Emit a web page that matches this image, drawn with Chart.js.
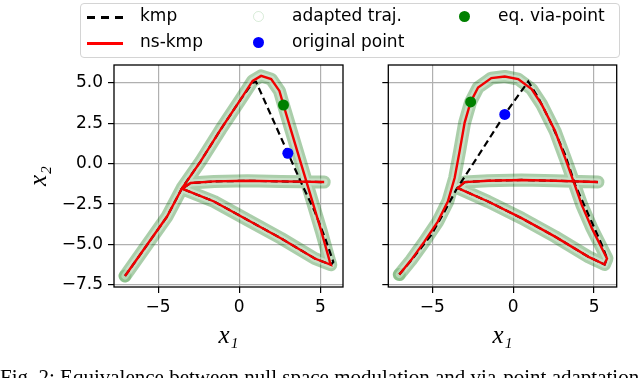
<!DOCTYPE html>
<html>
<head>
<meta charset="utf-8">
<script src="https://cdn.jsdelivr.net/npm/chart.js@4/dist/chart.umd.min.js"></script>
<style>
  body { margin: 0; background: #fff; width: 640px; height: 378px; overflow: hidden; position: relative; font-family: "DejaVu Sans", sans-serif; }
  canvas { position: absolute; top: 0; }
  #left { left: 0; }
  #right { left: 350px; }
  .legend { position: absolute; left: 80px; top: 3px; width: 538px; height: 53px; border: 1px solid #d4d4d4; border-radius: 4px; background: rgba(255,255,255,0.8); z-index: 2; }
  .lbl { position: absolute; font-size: 17px; line-height: 17px; color: #000; white-space: nowrap; z-index: 3; }
  .hline { position: absolute; height: 2.5px; width: 36px; z-index: 3; }
  .dot { position: absolute; width: 11px; height: 11px; border-radius: 50%; z-index: 3; box-sizing: border-box; }
  .caption { position: absolute; left: 0; top: 365px; font-family: "Liberation Serif", serif; font-size: 21px; white-space: nowrap; color: #000; }
</style>
</head>
<body>
<canvas id="left" width="350" height="378"></canvas>
<canvas id="right" width="290" height="378"></canvas>

<div class="legend"></div>
<div class="hline" style="left:87px;top:16px;background:repeating-linear-gradient(90deg,#000 0 8.5px,transparent 8.5px 14px);"></div>
<div class="lbl" style="left:140px;top:7px;">kmp</div>
<div class="hline" style="left:87px;top:42px;background:#ff0000;"></div>
<div class="lbl" style="left:140px;top:33px;">ns-kmp</div>
<div class="dot" style="left:253px;top:11px;border:1px solid rgba(0,128,0,0.15);"></div>
<div class="lbl" style="left:292px;top:7px;">adapted traj.</div>
<div class="dot" style="left:253px;top:37px;background:#0000ff;"></div>
<div class="lbl" style="left:292px;top:33px;">original point</div>
<div class="dot" style="left:459px;top:11px;background:#008000;"></div>
<div class="lbl" style="left:498px;top:7px;">eq. via-point</div>

<div class="caption">Fig. 2: Equivalence between null space modulation and via-point adaptation</div>

<script>
// axis ticks
const xTicks = [-5, 0, 5];
const yTicks = [-7.5, -5, -2.5, 0, 2.5, 5];

// left panel: kmp through the original point, ns-kmp through the equivalent via-point
const leftKmpX = [-7.04, -5.69, -4.45, -3.52, -2.38, -1.14, 0.10, 0.83, 1.04, 2.0, 3.0, 3.9, 4.66, 5.3, 5.8, 5.65, 4.66, 2.59, 0.52, -1.55, -3.52, -3.0, -1.55, 0.52, 2.59, 5.24];
const leftKmpY = [-6.94, -5.03, -3.27, -1.51, 0.14, 2.11, 3.98, 5.0, 5.05, 2.9, 0.66, -1.35, -2.96, -4.6, -6.07, -6.25, -5.86, -4.62, -3.48, -2.34, -1.55, -1.2, -1.1, -1.06, -1.1, -1.14];
const leftNsX = [-7.04, -5.69, -4.45, -3.52, -2.38, -1.14, 0.10, 0.83, 1.35, 1.97, 2.48, 2.73, 3.21, 3.83, 4.45, 5.07, 5.59, 5.65, 4.66, 2.59, 0.52, -1.55, -3.52, -3.0, -1.55, 0.52, 2.59, 5.24];
const leftNsY = [-6.94, -5.03, -3.27, -1.51, 0.14, 2.11, 3.98, 5.11, 5.42, 5.22, 4.49, 3.62, 2.01, -0.06, -2.13, -4.2, -6.07, -6.25, -5.86, -4.62, -3.48, -2.34, -1.55, -1.2, -1.1, -1.06, -1.1, -1.14];
const leftOrig = [3.0, 0.64];
const leftVia = [2.73, 3.62];

// right panel
const rightKmpX = [-7.04, -6.21, -5.07, -4.24, -3.52, -2.38, -0.52, 0.93, 1.55, 2.38, 3.21, 3.83, 4.66, 5.49, 5.8, 5.65, 4.66, 2.59, 0.52, -1.55, -3.42, -3.0, -1.55, 0.52, 2.59, 5.24];
const rightKmpY = [-6.85, -5.86, -4.41, -2.96, -1.61, 0.14, 3.04, 5.07, 4.08, 2.42, 0.56, -1.3, -3.17, -5.03, -5.86, -6.23, -5.76, -4.51, -3.37, -2.34, -1.51, -1.14, -1.06, -1.01, -1.06, -1.14];
const rightNsX = [-7.04, -6.31, -5.49, -4.66, -4.04, -3.62, -3.31, -3.0, -2.63, -2.17, -1.35, -0.52, 0.31, 1.14, 1.76, 2.59, 3.21, 3.73, 4.24, 4.87, 5.49, 5.8, 5.65, 4.66, 2.59, 0.52, -1.55, -3.42, -3.0, -1.55, 0.52, 2.59, 5.24];
const rightNsY = [-6.85, -5.96, -4.82, -3.58, -2.34, -0.89, 0.77, 2.53, 3.81, 4.7, 5.28, 5.38, 5.22, 4.6, 3.66, 2.01, 0.35, -1.1, -2.55, -4.0, -5.24, -5.86, -6.23, -5.76, -4.51, -3.37, -2.34, -1.51, -1.14, -1.06, -1.01, -1.06, -1.14];
const rightOrig = [-0.52, 3.04];
const rightVia = [-2.63, 3.81];

const minus = (s) => s.replace('-', '\u2212');

function pts(xs, ys) {
  return xs.map((x, i) => ({ x: x, y: ys[i] }));
}

const frame = {
  id: 'frame',
  afterDraw(chart) {
    const { ctx, chartArea: a } = chart;
    ctx.save();
    ctx.strokeStyle = '#000';
    ctx.lineWidth = 1.3;
    ctx.strokeRect(a.left, a.top, a.right - a.left, a.bottom - a.top);
    ctx.restore();
  },
};

function makePanel(id, kmpX, kmpY, nsX, nsY, orig, via, isLeft) {
  const ns = pts(nsX, nsY);
  const corner = nsY.indexOf(Math.min(...nsY));
  const line = { showLine: true, pointRadius: 0, fill: false, tension: 0 };
  const band = { ...line, borderCapStyle: 'round', borderJoinStyle: 'round' };

  const ctx = document.getElementById(id).getContext('2d');
  return new Chart(ctx, {
    type: 'scatter',
    data: {
      datasets: [
        { data: [{ x: via[0], y: via[1] }], pointRadius: 5.5, backgroundColor: '#008000', borderWidth: 0 },
        { data: [{ x: orig[0], y: orig[1] }], pointRadius: 5.5, backgroundColor: '#0000ff', borderWidth: 0 },
        { ...line, data: ns, borderColor: '#f00000', borderWidth: 2.4 },
        { ...line, data: pts(kmpX, kmpY), borderColor: '#000', borderWidth: 2.2, borderDash: [7, 4] },
        { ...band, data: ns, borderColor: 'rgba(255,255,255,0.35)', borderWidth: 7 },
        { ...band, data: ns.slice(corner), borderColor: 'rgba(20,120,20,0.36)', borderWidth: 13 },
        { ...band, data: ns.slice(0, corner + 1), borderColor: 'rgba(40,150,40,0.22)', borderWidth: 13 },
      ],
    },
    options: {
      responsive: false,
      animation: false,
      layout: { padding: isLeft ? { left: 0, right: 7, top: 65, bottom: 29 } : { left: 0, right: 23.3, top: 65, bottom: 29 } },
      plugins: { legend: { display: false }, tooltip: { enabled: false } },
      scales: {
        x: {
          type: 'linear',
          min: -7.72,
          max: 6.4,
          afterBuildTicks: (s) => { s.ticks = xTicks.map((v) => ({ value: v })); },
          afterFit: (s) => { s.height = 62; },
          grid: { color: '#b0b0b0', lineWidth: 1.2, tickLength: 6, tickColor: '#000', tickWidth: 1.2 },
          border: { display: false },
          ticks: { color: '#000', padding: 4, font: { family: 'DejaVu Sans', size: 17 }, callback: (v) => minus(String(v)) },
          title: { display: true, text: 'x\u2081', color: '#000', padding: 0, font: { family: 'Liberation Serif', style: 'italic', size: 25, lineHeight: 1 } },
        },
        y: {
          type: 'linear',
          min: -7.62,
          max: 6.09,
          afterBuildTicks: (s) => { s.ticks = yTicks.map((v) => ({ value: v })); },
          afterFit: (s) => { s.width = isLeft ? 114 : 38.3; },
          grid: { color: '#b0b0b0', lineWidth: 1.2, tickLength: 6, tickColor: '#000', tickWidth: 1.2 },
          border: { display: false },
          ticks: { color: '#000', padding: 5, font: { family: 'DejaVu Sans', size: 17 }, callback: (v) => isLeft ? minus(v.toFixed(1)) : '' },
          title: { display: isLeft, text: 'x\u2082', color: '#000', padding: { top: 27, bottom: 0 }, font: { family: 'Liberation Serif', style: 'italic', size: 25, lineHeight: 1 } },
        },
      },
    },
    plugins: [frame],
  });
}

makePanel('left', leftKmpX, leftKmpY, leftNsX, leftNsY, leftOrig, leftVia, true);
makePanel('right', rightKmpX, rightKmpY, rightNsX, rightNsY, rightOrig, rightVia, false);
</script>
</body>
</html>
